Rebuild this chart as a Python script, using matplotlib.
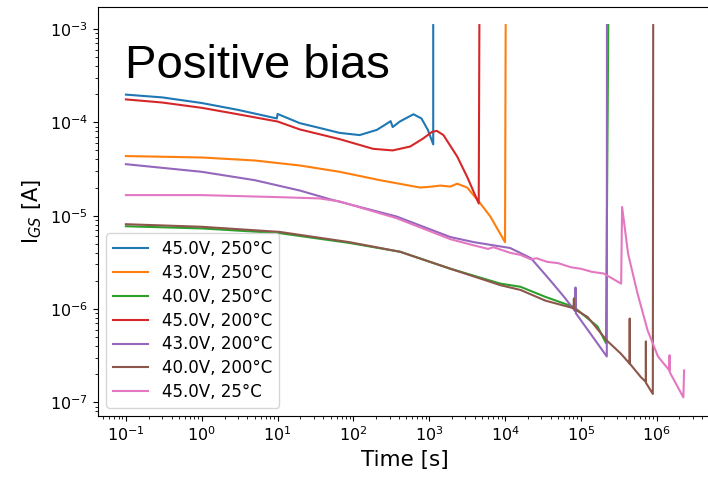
import matplotlib
matplotlib.use("Agg")
import matplotlib.pyplot as plt


# gate leakage vs. stress time, one trace per (bias, temperature) condition
labels = ["45.0V, 250°C", "43.0V, 250°C", "40.0V, 250°C",
          "45.0V, 200°C", "43.0V, 200°C", "40.0V, 200°C", "45.0V, 25°C"]

x_ticks = [1e-1, 1e0, 1e1, 1e2, 1e3, 1e4, 1e5, 1e6]
y_ticks = [1e-7, 1e-6, 1e-5, 1e-4, 1e-3]

# 45 V, 250 C
t_45_250 = [0.1, 0.3, 1, 3, 9.8, 10, 19.6, 36, 66, 121, 204, 283, 310, 330, 410, 620, 790, 960,
            1130, 1130]
i_45_250 = [1.98e-4, 1.85e-4, 1.61e-4, 1.36e-4, 1.10e-4, 1.23e-4, 9.8e-5, 8.7e-5, 7.7e-5, 7.3e-5,
            8.3e-5, 9.8e-5, 1.03e-4, 8.9e-5, 1.02e-4, 1.22e-4, 1.10e-4, 8.3e-5, 5.8e-5, 1.1e-3]

# 43 V, 250 C
t_43_250 = [0.1, 1, 5, 19.6, 66, 224, 760, 1100, 1400, 1900, 2340, 3170, 4730, 6400, 1.0e4, 1.02e4]
i_43_250 = [4.35e-5, 4.2e-5, 3.9e-5, 3.45e-5, 2.95e-5, 2.4e-5, 2.0e-5, 2.05e-5, 2.1e-5, 2.05e-5,
            2.2e-5, 2.0e-5, 1.35e-5, 9.8e-6, 5.2e-6, 1.1e-3]

# 40 V, 250 C
t_40_250 = [0.1, 1, 10.6, 89, 415, 1900, 8700, 1.6e4, 3.4e4, 8.1e4, 1.66e5, 2.15e5, 2.3e5]
i_40_250 = [7.7e-6, 7.3e-6, 6.5e-6, 5.1e-6, 4.1e-6, 2.7e-6, 1.87e-6, 1.73e-6, 1.35e-6, 1.05e-6,
            6.5e-7, 4.3e-7, 1.1e-3]

# 45 V, 200 C
t_45_200 = [0.1, 0.3, 1, 3, 10, 19.6, 66, 182, 330, 560, 830, 1090, 1260, 1540, 2340, 3170, 4500,
            4590]
i_45_200 = [1.76e-4, 1.63e-4, 1.43e-4, 1.22e-4, 1.02e-4, 8.4e-5, 6.6e-5, 5.2e-5, 5.0e-5, 5.5e-5,
            6.7e-5, 7.9e-5, 8.1e-5, 7.3e-5, 4.3e-5, 2.6e-5, 1.35e-5, 1.1e-3]

# 43 V, 200 C
t_43_200 = [0.1, 1, 5, 19.6, 49, 370, 1900, 3900, 1.17e4, 2.2e4, 4.0e4, 6.0e4, 8.4e4, 8.5e4, 8.6e4,
            2.2e5, 2.21e5]
i_43_200 = [3.56e-5, 2.95e-5, 2.4e-5, 1.86e-5, 1.5e-5, 9.8e-6, 5.9e-6, 5.2e-6, 4.5e-6, 3.5e-6,
            2.0e-6, 1.35e-6, 9.5e-7, 1.7e-6, 9.0e-7, 3.1e-7, 1.1e-3]

# 40 V, 200 C
t_40_200 = [0.1, 1, 10.6, 89, 415, 1900, 8700, 1.6e4, 3.4e4, 8.0e4, 8.1e4, 8.2e4, 1.23e5, 2.2e5,
            3.4e5, 4.4e5, 4.41e5, 4.42e5, 6.2e5, 7.2e5, 7.21e5, 7.22e5, 8.9e5, 9.0e5]
i_40_200 = [8.1e-6, 7.6e-6, 6.7e-6, 5.2e-6, 4.1e-6, 2.7e-6, 1.8e-6, 1.6e-6, 1.23e-6, 1.02e-6,
            1.3e-6, 1.0e-6, 8.2e-7, 4.6e-7, 3.3e-7, 2.6e-7, 7.9e-7, 2.6e-7, 1.86e-7, 1.66e-7,
            4.5e-7, 1.62e-7, 1.23e-7, 1.1e-3]

# 45 V, 25 C
t_45_25 = [0.1, 1, 10, 36, 66, 370, 1900, 3900, 6000, 7000, 1.17e4, 1.6e4, 2.2e4, 2.6e4, 3.6e4,
           5.0e4, 7.4e4, 1.0e5, 1.4e5, 2.0e5, 3.4e5, 3.5e5, 4.2e5, 5.6e5, 7.6e5, 1.04e6,
           1.47e6, 1.48e6, 1.49e6, 2.25e6, 2.3e6]
i_45_25 = [1.66e-5, 1.66e-5, 1.58e-5, 1.53e-5, 1.42e-5, 9.4e-6, 5.6e-6, 4.8e-6, 4.4e-6, 4.6e-6,
           4.0e-6, 3.8e-6, 3.4e-6, 3.5e-6, 3.2e-6, 3.1e-6, 2.8e-6, 2.7e-6, 2.5e-6, 2.4e-6,
           1.87e-6, 1.24e-5, 3.9e-6, 1.46e-6, 5.9e-7, 3.1e-7, 2.2e-7, 3.2e-7, 2.1e-7, 1.13e-7, 2.2e-7]

series = [(t_45_250, i_45_250), (t_43_250, i_43_250), (t_40_250, i_40_250),
          (t_45_200, i_45_200), (t_43_200, i_43_200), (t_40_200, i_40_200), (t_45_25, i_45_25)]

fig = plt.figure(figsize=(7.08, 4.78), dpi=100)
ax = fig.add_axes([98 / 708, 1 - 416 / 478, 614 / 708, 409.5 / 478])

for (t, i), lab in zip(series, labels):
    ax.plot(t, i, linewidth=1.5, label=lab)

ax.set_xscale("log")
ax.set_yscale("log")
ax.set_xticks(x_ticks)
ax.set_yticks(y_ticks)
ax.spines["right"].set_visible(False)
ax.tick_params(labelsize=11.5)
ax.set_xlabel("Time [s]", fontsize=15.5)
ax.set_ylabel(r"I$_{GS}$ [A]", fontsize=15)

ax.legend(loc="lower left", fontsize=12, labelspacing=0.35,
          handlelength=2.1, handletextpad=0.85)

fig.text(125 / 708, 1 - 78 / 478, "Positive bias", family="Liberation Sans",
         fontsize=34, va="baseline", ha="left")

fig.savefig("out.png", dpi=100)
